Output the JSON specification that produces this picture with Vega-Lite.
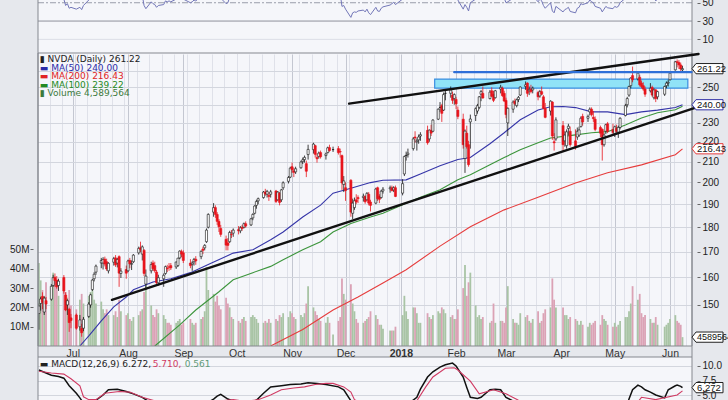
{
"$schema": "https://vega.github.io/schema/vega-lite/v6.json",
"width": 728, "height": 400, "autosize": {"type": "none"}, "padding": 0,
"background": "#f5f6fa",
"view": {"stroke": null},
"config": {"axis": {"labelFont": "Liberation Sans", "labelFontSize": 10, "labelColor": "#222222", "tickColor": "#666666"}},
"resolve": {"scale": {"y": "independent", "color": "independent", "stroke": "independent", "strokeWidth": "independent"}, "axis": {"x": "independent", "y": "independent"}},
"datasets": {
"px": [
{"d":"2017-06-12","o":147,"h":150.5,"l":141.5,"c":149.6,"v":43},
{"d":"2017-06-13","o":150.5,"h":152.9,"l":148,"c":152.1,"v":34},
{"d":"2017-06-14","o":153,"h":154.5,"l":148.5,"c":150.9,"v":29},
{"d":"2017-06-15","o":147.5,"h":153,"l":146.5,"c":152.4,"v":26},
{"d":"2017-06-16","o":151.5,"h":152.8,"l":148.5,"c":150.3,"v":33},
{"d":"2017-06-19","o":152,"h":157.5,"l":151.5,"c":156.7,"v":30},
{"d":"2017-06-20","o":157,"h":161,"l":156.5,"c":159.9,"v":38},
{"d":"2017-06-21","o":160,"h":161.5,"l":156.5,"c":158.8,"v":36},
{"d":"2017-06-22","o":159,"h":160.5,"l":155.8,"c":156.5,"v":31},
{"d":"2017-06-23","o":157,"h":159.5,"l":155,"c":158.6,"v":26},
{"d":"2017-06-26","o":160,"h":160.9,"l":154,"c":155,"v":29},
{"d":"2017-06-27","o":153.5,"h":154.5,"l":147.8,"c":148.2,"v":28},
{"d":"2017-06-28","o":150,"h":152,"l":146.5,"c":151.5,"v":25},
{"d":"2017-06-29","o":148.5,"h":149,"l":140.8,"c":143.9,"v":29},
{"d":"2017-06-30","o":145.5,"h":146.8,"l":142,"c":144.6,"v":21},
{"d":"2017-07-03","o":146.5,"h":147,"l":141.5,"c":142,"v":19},
{"d":"2017-07-05","o":142.5,"h":146.5,"l":141.2,"c":144.8,"v":24},
{"d":"2017-07-06","o":142,"h":143.5,"l":139.2,"c":140.5,"v":27},
{"d":"2017-07-07","o":142,"h":145.8,"l":141,"c":145,"v":22},
{"d":"2017-07-10","o":146,"h":151,"l":145.5,"c":150.3,"v":26},
{"d":"2017-07-11","o":150,"h":154,"l":149,"c":153.6,"v":28},
{"d":"2017-07-12","o":155.5,"h":159.5,"l":155,"c":159,"v":29},
{"d":"2017-07-13","o":159.5,"h":162,"l":158.5,"c":161.2,"v":24},
{"d":"2017-07-14","o":162,"h":164.9,"l":161,"c":164.3,"v":22},
{"d":"2017-07-17","o":165.5,"h":167.5,"l":163.5,"c":166.5,"v":23},
{"d":"2017-07-18","o":165.5,"h":167.8,"l":163,"c":166.9,"v":19},
{"d":"2017-07-19","o":167,"h":168,"l":164.2,"c":165.1,"v":17},
{"d":"2017-07-20","o":166,"h":167.2,"l":162.5,"c":163.2,"v":19},
{"d":"2017-07-21","o":162.5,"h":165.8,"l":161.5,"c":165.4,"v":16},
{"d":"2017-07-24","o":165.8,"h":167.9,"l":164.5,"c":167.2,"v":16},
{"d":"2017-07-25","o":167.5,"h":168.6,"l":164,"c":164.8,"v":18},
{"d":"2017-07-26","o":165.5,"h":167.5,"l":163.8,"c":166.9,"v":15},
{"d":"2017-07-27","o":168,"h":168.5,"l":156.5,"c":161.6,"v":24},
{"d":"2017-07-28","o":161.5,"h":163.5,"l":159.8,"c":162.4,"v":18},
{"d":"2017-07-31","o":163,"h":164.5,"l":159.5,"c":161.6,"v":16},
{"d":"2017-08-01","o":162.5,"h":166.8,"l":162,"c":166.3,"v":17},
{"d":"2017-08-02","o":166.5,"h":167.5,"l":163.5,"c":165.2,"v":14},
{"d":"2017-08-03","o":165,"h":166.5,"l":162.8,"c":165.3,"v":13},
{"d":"2017-08-04","o":166,"h":169,"l":165.5,"c":168.6,"v":15},
{"d":"2017-08-07","o":169.5,"h":172,"l":168.8,"c":171.3,"v":16},
{"d":"2017-08-08","o":171.5,"h":174,"l":169.8,"c":170.9,"v":18},
{"d":"2017-08-09","o":169,"h":172.5,"l":166.5,"c":171.9,"v":19},
{"d":"2017-08-10","o":170.5,"h":171,"l":160.5,"c":161.5,"v":28},
{"d":"2017-08-11","o":157.5,"h":163,"l":155.5,"c":160.5,"v":33},
{"d":"2017-08-14","o":162.5,"h":166,"l":161.5,"c":164.9,"v":21},
{"d":"2017-08-15","o":165.5,"h":166.5,"l":162.5,"c":163.3,"v":16},
{"d":"2017-08-16","o":164.5,"h":166,"l":161.8,"c":162.5,"v":15},
{"d":"2017-08-17","o":162,"h":162.8,"l":157.5,"c":158,"v":19},
{"d":"2017-08-18","o":158,"h":161,"l":157,"c":159.9,"v":17},
{"d":"2017-08-21","o":159.5,"h":161.5,"l":156.5,"c":160.8,"v":16},
{"d":"2017-08-22","o":161.5,"h":164.5,"l":161,"c":164.1,"v":14},
{"d":"2017-08-23","o":163.5,"h":164.8,"l":162,"c":163.3,"v":12},
{"d":"2017-08-24","o":164,"h":165.5,"l":162.5,"c":163.9,"v":12},
{"d":"2017-08-25","o":164.5,"h":165.5,"l":162.8,"c":163.6,"v":11},
{"d":"2017-08-28","o":164,"h":166,"l":163.2,"c":165.9,"v":12},
{"d":"2017-08-29","o":164.5,"h":167.5,"l":164,"c":167.4,"v":13},
{"d":"2017-08-30","o":167.5,"h":170.5,"l":167,"c":170.2,"v":14},
{"d":"2017-08-31","o":170,"h":170.8,"l":167.8,"c":169,"v":11},
{"d":"2017-09-01","o":169.5,"h":170.5,"l":165.5,"c":166.5,"v":12},
{"d":"2017-09-05","o":165.5,"h":167,"l":163.5,"c":164.5,"v":14},
{"d":"2017-09-06","o":165,"h":166.2,"l":162.5,"c":165.5,"v":12},
{"d":"2017-09-07","o":166,"h":167.5,"l":164.5,"c":166.9,"v":11},
{"d":"2017-09-08","o":167,"h":168.2,"l":164.8,"c":166.3,"v":12},
{"d":"2017-09-11","o":168,"h":170.5,"l":167,"c":170.1,"v":14},
{"d":"2017-09-12","o":171,"h":172,"l":169,"c":170.5,"v":15},
{"d":"2017-09-13","o":171.5,"h":173,"l":170.5,"c":172.5,"v":18},
{"d":"2017-09-14","o":174,"h":179.5,"l":173.5,"c":178.8,"v":41},
{"d":"2017-09-15","o":180,"h":186,"l":179.5,"c":185.5,"v":29},
{"d":"2017-09-18","o":186.5,"h":190.5,"l":184.5,"c":188.5,"v":27},
{"d":"2017-09-19","o":188.5,"h":189.5,"l":184,"c":185.5,"v":23},
{"d":"2017-09-20","o":185.5,"h":186.5,"l":181,"c":182.5,"v":26},
{"d":"2017-09-21","o":182.5,"h":183.5,"l":178,"c":180.2,"v":21},
{"d":"2017-09-22","o":179.5,"h":181,"l":176,"c":177,"v":19},
{"d":"2017-09-25","o":175,"h":176.5,"l":170.5,"c":172.6,"v":25},
{"d":"2017-09-26","o":173.5,"h":175.5,"l":170.5,"c":172.5,"v":22},
{"d":"2017-09-27","o":174,"h":178.5,"l":173.5,"c":177.8,"v":20},
{"d":"2017-09-28","o":177,"h":178.8,"l":175.5,"c":176.9,"v":15},
{"d":"2017-09-29","o":177.5,"h":179.5,"l":176,"c":178.8,"v":14},
{"d":"2017-10-02","o":179,"h":180.5,"l":177,"c":178.5,"v":13},
{"d":"2017-10-03","o":178.5,"h":180.5,"l":177.5,"c":179.8,"v":12},
{"d":"2017-10-04","o":180,"h":181,"l":178.5,"c":179.5,"v":14},
{"d":"2017-10-05","o":180,"h":182,"l":179.5,"c":181.5,"v":15},
{"d":"2017-10-06","o":181.5,"h":182.5,"l":179.8,"c":180.5,"v":13},
{"d":"2017-10-09","o":181,"h":184,"l":180.5,"c":183.6,"v":15},
{"d":"2017-10-10","o":184,"h":186,"l":183,"c":185.5,"v":16},
{"d":"2017-10-11","o":186,"h":189.5,"l":185.5,"c":189.2,"v":15},
{"d":"2017-10-12","o":189.5,"h":192,"l":188,"c":191.2,"v":14},
{"d":"2017-10-13","o":191.5,"h":193,"l":190,"c":192.5,"v":12},
{"d":"2017-10-16","o":193,"h":196,"l":192.5,"c":195.5,"v":12},
{"d":"2017-10-17","o":195.5,"h":197,"l":193.8,"c":194.6,"v":13},
{"d":"2017-10-18","o":194.5,"h":196.5,"l":193,"c":195.8,"v":12},
{"d":"2017-10-19","o":194,"h":195.5,"l":191.5,"c":193.5,"v":14},
{"d":"2017-10-20","o":194.5,"h":196.5,"l":193,"c":195.6,"v":12},
{"d":"2017-10-23","o":196,"h":196.5,"l":190.5,"c":191.2,"v":14},
{"d":"2017-10-24","o":192,"h":196,"l":191.5,"c":195.5,"v":13},
{"d":"2017-10-25","o":195,"h":195.5,"l":189.5,"c":190.8,"v":16},
{"d":"2017-10-26","o":192,"h":197,"l":191,"c":196.5,"v":15},
{"d":"2017-10-27","o":197.5,"h":200.5,"l":196.5,"c":199.8,"v":17},
{"d":"2017-10-30","o":200.5,"h":203,"l":199.5,"c":202.3,"v":15},
{"d":"2017-10-31","o":202.5,"h":207.5,"l":202,"c":206.8,"v":18},
{"d":"2017-11-01","o":207.5,"h":209.5,"l":204.5,"c":206,"v":17},
{"d":"2017-11-02","o":205.5,"h":207,"l":202.5,"c":204.8,"v":15},
{"d":"2017-11-03","o":205,"h":207.5,"l":204,"c":206.5,"v":14},
{"d":"2017-11-06","o":207,"h":210.5,"l":206.5,"c":209.8,"v":16},
{"d":"2017-11-07","o":210,"h":212,"l":208.8,"c":210.9,"v":15},
{"d":"2017-11-08","o":211,"h":213,"l":209.5,"c":212.1,"v":17},
{"d":"2017-11-09","o":209,"h":210.5,"l":202.5,"c":205.3,"v":22},
{"d":"2017-11-10","o":213.5,"h":218.5,"l":211,"c":216.1,"v":31},
{"d":"2017-11-13","o":216,"h":219.5,"l":214,"c":218.8,"v":20},
{"d":"2017-11-14","o":218,"h":218.5,"l":212,"c":213.6,"v":18},
{"d":"2017-11-15","o":212,"h":214,"l":209.5,"c":211.4,"v":16},
{"d":"2017-11-16","o":212.5,"h":215,"l":211.5,"c":214.2,"v":14},
{"d":"2017-11-17","o":214.5,"h":215.5,"l":211.5,"c":212.4,"v":13},
{"d":"2017-11-20","o":213,"h":214.5,"l":211,"c":213.8,"v":12},
{"d":"2017-11-21","o":214.5,"h":217.5,"l":214,"c":216.9,"v":15},
{"d":"2017-11-22","o":217,"h":218.5,"l":215,"c":215.5,"v":12},
{"d":"2017-11-24","o":216,"h":217.5,"l":214.8,"c":216,"v":6},
{"d":"2017-11-27","o":216.5,"h":217.8,"l":213.5,"c":214.5,"v":13},
{"d":"2017-11-28","o":215,"h":216.5,"l":212,"c":214.8,"v":15},
{"d":"2017-11-29","o":213,"h":213.5,"l":196.5,"c":199.7,"v":35},
{"d":"2017-11-30","o":199,"h":203,"l":195.5,"c":200.7,"v":27},
{"d":"2017-12-01","o":197.5,"h":200,"l":191.5,"c":196.2,"v":24},
{"d":"2017-12-04","o":201,"h":201.5,"l":184.5,"c":186.5,"v":32},
{"d":"2017-12-05","o":186,"h":192.5,"l":183.5,"c":190.5,"v":22},
{"d":"2017-12-06","o":188.5,"h":193,"l":187.5,"c":191.6,"v":18},
{"d":"2017-12-07","o":192,"h":194.5,"l":190,"c":191,"v":14},
{"d":"2017-12-08","o":193,"h":194,"l":190.5,"c":192.5,"v":12},
{"d":"2017-12-11","o":193,"h":194.8,"l":191.2,"c":193.6,"v":12},
{"d":"2017-12-12","o":193.5,"h":194,"l":190.2,"c":191.1,"v":13},
{"d":"2017-12-13","o":192,"h":195.5,"l":191.5,"c":194.9,"v":14},
{"d":"2017-12-14","o":194.5,"h":195.5,"l":189.5,"c":190.5,"v":15},
{"d":"2017-12-15","o":191,"h":192,"l":186.8,"c":189.5,"v":18},
{"d":"2017-12-18","o":190.5,"h":197.5,"l":190,"c":196.9,"v":16},
{"d":"2017-12-19","o":197.5,"h":198,"l":191.5,"c":192.5,"v":14},
{"d":"2017-12-20","o":193.5,"h":194.5,"l":190.5,"c":192.2,"v":11},
{"d":"2017-12-21","o":193,"h":196.5,"l":192.5,"c":195.9,"v":11},
{"d":"2017-12-22","o":196,"h":197.8,"l":194.8,"c":196.8,"v":9},
{"d":"2017-12-26","o":197,"h":198.5,"l":195.2,"c":197.5,"v":8},
{"d":"2017-12-27","o":197.5,"h":198.5,"l":195.8,"c":196.2,"v":8},
{"d":"2017-12-28","o":196.5,"h":198.2,"l":195.5,"c":197.5,"v":8},
{"d":"2017-12-29","o":197.5,"h":198.5,"l":193.2,"c":193.5,"v":10},
{"d":"2018-01-02","o":195,"h":201.5,"l":194,"c":199.4,"v":16},
{"d":"2018-01-03","o":204,"h":213,"l":203,"c":212.5,"v":26},
{"d":"2018-01-04","o":213,"h":215,"l":210.5,"c":213.1,"v":18},
{"d":"2018-01-05","o":213.5,"h":216.5,"l":212,"c":214.2,"v":14},
{"d":"2018-01-08","o":216.5,"h":222.5,"l":215.5,"c":221.5,"v":20},
{"d":"2018-01-09","o":222.5,"h":225.5,"l":219.5,"c":222,"v":20},
{"d":"2018-01-10","o":220,"h":221.8,"l":215.5,"c":220.5,"v":17},
{"d":"2018-01-11","o":221,"h":223.8,"l":219,"c":222.5,"v":12},
{"d":"2018-01-12","o":223,"h":225,"l":220.5,"c":223.7,"v":12},
{"d":"2018-01-16","o":226,"h":228.5,"l":218.5,"c":219.5,"v":17},
{"d":"2018-01-17","o":221.5,"h":226.5,"l":220,"c":226.1,"v":15},
{"d":"2018-01-18","o":226,"h":229,"l":223,"c":224.5,"v":14},
{"d":"2018-01-19","o":225.5,"h":232,"l":225,"c":231.5,"v":16},
{"d":"2018-01-22","o":232,"h":238,"l":231.5,"c":237.5,"v":18},
{"d":"2018-01-23","o":238.5,"h":241.5,"l":236,"c":238.5,"v":17},
{"d":"2018-01-24","o":239.5,"h":240.5,"l":230.5,"c":235.2,"v":20},
{"d":"2018-01-25","o":237,"h":247,"l":236.5,"c":245.8,"v":19},
{"d":"2018-01-26","o":246.5,"h":249,"l":242.5,"c":246.5,"v":17},
{"d":"2018-01-29","o":246.5,"h":250.5,"l":244,"c":248.5,"v":15},
{"d":"2018-01-30","o":245.5,"h":247.5,"l":240.5,"c":242.5,"v":16},
{"d":"2018-01-31","o":243.5,"h":246.5,"l":240,"c":245.8,"v":14},
{"d":"2018-02-01","o":243,"h":244.5,"l":237.5,"c":240.5,"v":14},
{"d":"2018-02-02","o":237,"h":239,"l":232,"c":233.5,"v":19},
{"d":"2018-02-05","o":232,"h":235,"l":216.5,"c":218.5,"v":30},
{"d":"2018-02-06","o":211.5,"h":226.5,"l":204.5,"c":225.6,"v":42},
{"d":"2018-02-07","o":224.5,"h":228.5,"l":216.5,"c":217.5,"v":26},
{"d":"2018-02-08","o":218.5,"h":220.5,"l":207.5,"c":208.5,"v":33},
{"d":"2018-02-09","o":230.5,"h":234.5,"l":216.5,"c":232.1,"v":38},
{"d":"2018-02-12","o":234,"h":238.5,"l":231,"c":237.8,"v":21},
{"d":"2018-02-13","o":236.5,"h":240.5,"l":235,"c":239.5,"v":15},
{"d":"2018-02-14","o":238.5,"h":245,"l":237.5,"c":244.5,"v":16},
{"d":"2018-02-15","o":246,"h":248.5,"l":242,"c":247.5,"v":14},
{"d":"2018-02-16","o":246.5,"h":250.5,"l":243.5,"c":243.8,"v":15},
{"d":"2018-02-20","o":243.5,"h":248.5,"l":243,"c":247.2,"v":12},
{"d":"2018-02-21","o":248,"h":250,"l":244.5,"c":244.8,"v":13},
{"d":"2018-02-22","o":246,"h":248,"l":241.5,"c":242.5,"v":22},
{"d":"2018-02-23","o":244,"h":248.5,"l":243.5,"c":248,"v":12},
{"d":"2018-02-26","o":249,"h":251.5,"l":246.5,"c":250,"v":13},
{"d":"2018-02-27","o":249.5,"h":250.5,"l":244.5,"c":245.2,"v":13},
{"d":"2018-02-28","o":246.5,"h":248,"l":241.5,"c":242.1,"v":12},
{"d":"2018-03-01","o":242.5,"h":244,"l":232.5,"c":234.5,"v":20},
{"d":"2018-03-02","o":230,"h":238.5,"l":223,"c":238,"v":31},
{"d":"2018-03-05","o":237.5,"h":242.5,"l":235.5,"c":241.5,"v":14},
{"d":"2018-03-06","o":242,"h":243.5,"l":239.5,"c":240.5,"v":12},
{"d":"2018-03-07","o":239.5,"h":243.5,"l":238.5,"c":242.8,"v":12},
{"d":"2018-03-08","o":243,"h":245,"l":241.5,"c":244.2,"v":11},
{"d":"2018-03-09","o":245.5,"h":250.5,"l":245,"c":250.2,"v":17},
{"d":"2018-03-12","o":250.5,"h":253.5,"l":248.5,"c":251.5,"v":15},
{"d":"2018-03-13","o":252.5,"h":253,"l":244.5,"c":246.5,"v":16},
{"d":"2018-03-14","o":248,"h":250.5,"l":245.5,"c":248.8,"v":13},
{"d":"2018-03-15","o":249,"h":251.5,"l":246.5,"c":247.5,"v":12},
{"d":"2018-03-16","o":248.5,"h":250.5,"l":246.5,"c":249.5,"v":14},
{"d":"2018-03-19","o":247,"h":248,"l":242.5,"c":244.5,"v":18},
{"d":"2018-03-20","o":245,"h":248.5,"l":244,"c":247.5,"v":12},
{"d":"2018-03-21","o":247.5,"h":250.5,"l":245.5,"c":246,"v":13},
{"d":"2018-03-22","o":244.5,"h":245.5,"l":237.5,"c":238,"v":17},
{"d":"2018-03-23","o":238,"h":241,"l":232.5,"c":233,"v":19},
{"d":"2018-03-26","o":236.5,"h":242.5,"l":234,"c":242,"v":20},
{"d":"2018-03-27","o":241.5,"h":242,"l":221,"c":223,"v":35},
{"d":"2018-03-28","o":220,"h":224.5,"l":215.5,"c":219.5,"v":24},
{"d":"2018-03-29","o":221.5,"h":233,"l":220.5,"c":231.6,"v":20},
{"d":"2018-04-02","o":228.5,"h":231,"l":215,"c":218.5,"v":20},
{"d":"2018-04-03","o":220.5,"h":225.5,"l":217.5,"c":223.5,"v":16},
{"d":"2018-04-04","o":218,"h":226.5,"l":216.5,"c":225.2,"v":16},
{"d":"2018-04-05","o":227,"h":229.5,"l":223.5,"c":228.2,"v":14},
{"d":"2018-04-06","o":225.5,"h":228,"l":217.5,"c":218.5,"v":15},
{"d":"2018-04-09","o":220.5,"h":226.5,"l":216,"c":217,"v":14},
{"d":"2018-04-10","o":222.5,"h":227.5,"l":221,"c":225.5,"v":13},
{"d":"2018-04-11","o":223.5,"h":228,"l":222.5,"c":226.2,"v":11},
{"d":"2018-04-12","o":228,"h":233.5,"l":227.5,"c":232.5,"v":13},
{"d":"2018-04-13","o":233.5,"h":235,"l":228.5,"c":230.5,"v":11},
{"d":"2018-04-16","o":232.5,"h":234.5,"l":230.5,"c":233.5,"v":10},
{"d":"2018-04-17","o":236,"h":238.5,"l":234,"c":237.5,"v":12},
{"d":"2018-04-18","o":237.5,"h":238.5,"l":233.5,"c":234.5,"v":11},
{"d":"2018-04-19","o":233,"h":236.5,"l":230.5,"c":232.3,"v":12},
{"d":"2018-04-20","o":232,"h":233.5,"l":225.5,"c":226.5,"v":13},
{"d":"2018-04-23","o":227.5,"h":228.5,"l":222.5,"c":224.5,"v":11},
{"d":"2018-04-24","o":226.5,"h":227,"l":210.5,"c":218.5,"v":16},
{"d":"2018-04-25","o":218.5,"h":224.5,"l":217.5,"c":223.5,"v":14},
{"d":"2018-04-26","o":225.5,"h":229.5,"l":224,"c":229,"v":13},
{"d":"2018-04-27","o":229.5,"h":230.5,"l":224.5,"c":225.5,"v":11},
{"d":"2018-04-30","o":226.5,"h":229.5,"l":223.5,"c":224.9,"v":10},
{"d":"2018-05-01","o":224,"h":228.5,"l":222.5,"c":227.9,"v":12},
{"d":"2018-05-02","o":227,"h":229,"l":224.5,"c":225.5,"v":10},
{"d":"2018-05-03","o":225,"h":228.5,"l":222,"c":227.6,"v":11},
{"d":"2018-05-04","o":227.5,"h":233,"l":226.5,"c":232.5,"v":13},
{"d":"2018-05-07","o":234,"h":240.5,"l":233.5,"c":239.5,"v":15},
{"d":"2018-05-08","o":240,"h":244.5,"l":238.5,"c":243.5,"v":15},
{"d":"2018-05-09","o":245.5,"h":251,"l":244.5,"c":250.5,"v":18},
{"d":"2018-05-10","o":251,"h":256,"l":249.5,"c":255.5,"v":22},
{"d":"2018-05-11","o":257,"h":262.5,"l":253,"c":254.5,"v":31},
{"d":"2018-05-14","o":255,"h":259.5,"l":254,"c":258.5,"v":24},
{"d":"2018-05-15","o":256,"h":257.5,"l":250.5,"c":251.5,"v":27},
{"d":"2018-05-16","o":252.5,"h":254,"l":249.5,"c":250.5,"v":17},
{"d":"2018-05-17","o":251,"h":253,"l":248,"c":249,"v":15},
{"d":"2018-05-18","o":249,"h":250.5,"l":244.5,"c":246,"v":16},
{"d":"2018-05-21","o":248,"h":252.5,"l":247,"c":249.5,"v":14},
{"d":"2018-05-22","o":250,"h":251,"l":244.5,"c":245.5,"v":12},
{"d":"2018-05-23","o":244,"h":249.5,"l":243,"c":248.5,"v":12},
{"d":"2018-05-24","o":248.5,"h":249,"l":241.5,"c":243.5,"v":15},
{"d":"2018-05-25","o":244.5,"h":248,"l":243,"c":247.5,"v":11},
{"d":"2018-05-29","o":246,"h":251,"l":245,"c":250.5,"v":10},
{"d":"2018-05-30","o":251,"h":253.5,"l":249.5,"c":252.5,"v":11},
{"d":"2018-05-31","o":252.5,"h":254.5,"l":250.5,"c":253,"v":12},
{"d":"2018-06-01","o":254.5,"h":259,"l":254,"c":258.5,"v":14},
{"d":"2018-06-04","o":260.5,"h":266,"l":260,"c":265.5,"v":16},
{"d":"2018-06-05","o":265.5,"h":266.9,"l":262,"c":265,"v":13},
{"d":"2018-06-06","o":265,"h":266.5,"l":261,"c":263.5,"v":12},
{"d":"2018-06-07","o":263.5,"h":265,"l":259.5,"c":261,"v":11},
{"d":"2018-06-08","o":260.5,"h":263,"l":259,"c":261.22,"v":4.59}
],
"ma": [
{"s":"ma50","d":"2017-07-05","p":136.2},{"s":"ma50","d":"2017-07-10","p":139.5},{"s":"ma50","d":"2017-07-17","p":144.5},{"s":"ma50","d":"2017-07-24","p":149.3},{"s":"ma50","d":"2017-07-31","p":152.8},{"s":"ma50","d":"2017-08-04","p":155.4},{"s":"ma50","d":"2017-08-15","p":158.3},{"s":"ma50","d":"2017-08-25","p":159.5},{"s":"ma50","d":"2017-09-05","p":161.8},{"s":"ma50","d":"2017-09-15","p":164.9},{"s":"ma50","d":"2017-09-29","p":169.4},{"s":"ma50","d":"2017-10-10","p":170.7},{"s":"ma50","d":"2017-10-20","p":174.8},{"s":"ma50","d":"2017-10-27","p":178},{"s":"ma50","d":"2017-11-07","p":184.4},{"s":"ma50","d":"2017-11-17","p":189.6},{"s":"ma50","d":"2017-11-24","p":195},{"s":"ma50","d":"2017-12-04","p":197.3},{"s":"ma50","d":"2017-12-15","p":199.9},{"s":"ma50","d":"2017-12-22","p":201},{"s":"ma50","d":"2018-01-04","p":201.2},{"s":"ma50","d":"2018-01-12","p":204},{"s":"ma50","d":"2018-01-23","p":208},{"s":"ma50","d":"2018-02-02","p":211},{"s":"ma50","d":"2018-02-09","p":212},{"s":"ma50","d":"2018-02-20","p":219},{"s":"ma50","d":"2018-02-28","p":224.7},{"s":"ma50","d":"2018-03-09","p":231.7},{"s":"ma50","d":"2018-03-19","p":237},{"s":"ma50","d":"2018-03-26","p":238.9},{"s":"ma50","d":"2018-04-02","p":239},{"s":"ma50","d":"2018-04-09","p":238.4},{"s":"ma50","d":"2018-04-18","p":236},{"s":"ma50","d":"2018-04-27","p":236},{"s":"ma50","d":"2018-05-07","p":234.5},{"s":"ma50","d":"2018-05-16","p":236},{"s":"ma50","d":"2018-05-25","p":237},{"s":"ma50","d":"2018-06-04","p":238.4},{"s":"ma50","d":"2018-06-08","p":240},
{"s":"ma100","d":"2017-08-16","p":136.2},{"s":"ma100","d":"2017-08-30","p":143.1},{"s":"ma100","d":"2017-09-08","p":148.2},{"s":"ma100","d":"2017-09-21","p":154.7},{"s":"ma100","d":"2017-09-29","p":159.1},{"s":"ma100","d":"2017-10-10","p":161.8},{"s":"ma100","d":"2017-10-20","p":164.2},{"s":"ma100","d":"2017-10-27","p":166.8},{"s":"ma100","d":"2017-11-07","p":170.7},{"s":"ma100","d":"2017-11-17","p":174},{"s":"ma100","d":"2017-11-24","p":178},{"s":"ma100","d":"2017-12-04","p":181.6},{"s":"ma100","d":"2017-12-15","p":184.4},{"s":"ma100","d":"2017-12-22","p":186},{"s":"ma100","d":"2018-01-04","p":190.4},{"s":"ma100","d":"2018-01-12","p":193.1},{"s":"ma100","d":"2018-01-23","p":196.6},{"s":"ma100","d":"2018-02-02","p":201.2},{"s":"ma100","d":"2018-02-09","p":203.6},{"s":"ma100","d":"2018-02-20","p":208.4},{"s":"ma100","d":"2018-02-28","p":212},{"s":"ma100","d":"2018-03-09","p":215.9},{"s":"ma100","d":"2018-03-19","p":219.5},{"s":"ma100","d":"2018-03-26","p":222},{"s":"ma100","d":"2018-04-09","p":223.6},{"s":"ma100","d":"2018-04-18","p":224.7},{"s":"ma100","d":"2018-04-27","p":225.3},{"s":"ma100","d":"2018-05-07","p":228.9},{"s":"ma100","d":"2018-05-16","p":232.6},{"s":"ma100","d":"2018-05-25","p":235.5},{"s":"ma100","d":"2018-06-04","p":237.2},{"s":"ma100","d":"2018-06-08","p":239.2},
{"s":"ma200","d":"2017-10-20","p":136.2},{"s":"ma200","d":"2017-11-07","p":141.6},{"s":"ma200","d":"2017-11-24","p":148.2},{"s":"ma200","d":"2017-12-08","p":152.8},{"s":"ma200","d":"2017-12-22","p":157.9},{"s":"ma200","d":"2018-01-04","p":162.9},{"s":"ma200","d":"2018-01-23","p":172.2},{"s":"ma200","d":"2018-02-09","p":180.2},{"s":"ma200","d":"2018-02-28","p":187.5},{"s":"ma200","d":"2018-03-19","p":193.1},{"s":"ma200","d":"2018-04-09","p":199.7},{"s":"ma200","d":"2018-04-27","p":204.6},{"s":"ma200","d":"2018-05-16","p":208.4},{"s":"ma200","d":"2018-06-04","p":213.4},{"s":"ma200","d":"2018-06-08","p":216.4}
],
"rsi": [
{"d":"2017-06-12","r":58},{"d":"2017-06-16","r":57},{"d":"2017-06-20","r":62},{"d":"2017-06-23","r":58},{"d":"2017-06-26","r":54},{"d":"2017-06-27","r":47},{"d":"2017-06-28","r":49},{"d":"2017-06-29","r":44},{"d":"2017-06-30","r":45},{"d":"2017-07-03","r":43},{"d":"2017-07-05","r":45},{"d":"2017-07-06","r":42.5},{"d":"2017-07-07","r":47},{"d":"2017-07-10","r":53},{"d":"2017-07-11","r":58},{"d":"2017-07-14","r":66},{"d":"2017-07-21","r":64},{"d":"2017-07-27","r":58},{"d":"2017-08-02","r":60},{"d":"2017-08-08","r":63},{"d":"2017-08-09","r":58},{"d":"2017-08-10","r":47},{"d":"2017-08-11","r":43.5},{"d":"2017-08-14","r":51},{"d":"2017-08-15","r":49},{"d":"2017-08-16","r":48},{"d":"2017-08-17","r":45},{"d":"2017-08-18","r":47},{"d":"2017-08-21","r":48},{"d":"2017-08-22","r":52},{"d":"2017-08-23","r":51},{"d":"2017-08-24","r":52},{"d":"2017-08-25","r":51},{"d":"2017-08-28","r":54},{"d":"2017-08-30","r":58},{"d":"2017-09-01","r":54},{"d":"2017-09-05","r":50},{"d":"2017-09-06","r":51},{"d":"2017-09-07","r":53},{"d":"2017-09-08","r":52},{"d":"2017-09-11","r":57},{"d":"2017-09-14","r":68},{"d":"2017-09-19","r":65},{"d":"2017-09-21","r":58},{"d":"2017-09-22","r":55},{"d":"2017-09-25","r":49},{"d":"2017-09-26","r":50},{"d":"2017-09-27","r":56},{"d":"2017-10-02","r":58},{"d":"2017-10-09","r":66},{"d":"2017-10-20","r":62},{"d":"2017-10-25","r":58},{"d":"2017-10-31","r":68},{"d":"2017-11-09","r":60},{"d":"2017-11-13","r":68},{"d":"2017-11-20","r":62},{"d":"2017-11-28","r":60},{"d":"2017-11-29","r":46},{"d":"2017-11-30","r":47},{"d":"2017-12-01","r":43},{"d":"2017-12-04","r":34},{"d":"2017-12-05","r":39},{"d":"2017-12-06","r":40},{"d":"2017-12-07","r":39.5},{"d":"2017-12-08","r":41},{"d":"2017-12-11","r":42},{"d":"2017-12-12","r":40},{"d":"2017-12-13","r":43},{"d":"2017-12-14","r":39},{"d":"2017-12-15","r":37},{"d":"2017-12-18","r":45},{"d":"2017-12-19","r":41},{"d":"2017-12-20","r":40.5},{"d":"2017-12-21","r":44},{"d":"2017-12-22","r":45.5},{"d":"2017-12-26","r":47.5},{"d":"2017-12-27","r":49},{"d":"2017-12-28","r":50.5},{"d":"2017-12-29","r":48},{"d":"2018-01-02","r":54},{"d":"2018-01-03","r":64},{"d":"2018-01-10","r":66},{"d":"2018-01-19","r":70},{"d":"2018-01-29","r":72},{"d":"2018-02-01","r":58},{"d":"2018-02-02","r":53},{"d":"2018-02-05","r":43},{"d":"2018-02-06","r":48},{"d":"2018-02-07","r":45},{"d":"2018-02-08","r":41},{"d":"2018-02-09","r":50},{"d":"2018-02-12","r":54},{"d":"2018-02-14","r":58},{"d":"2018-02-26","r":60},{"d":"2018-02-28","r":55},{"d":"2018-03-01","r":50},{"d":"2018-03-02","r":51},{"d":"2018-03-05","r":55},{"d":"2018-03-09","r":60},{"d":"2018-03-13","r":57},{"d":"2018-03-16","r":58},{"d":"2018-03-19","r":51},{"d":"2018-03-20","r":54},{"d":"2018-03-21","r":52},{"d":"2018-03-22","r":47},{"d":"2018-03-23","r":44},{"d":"2018-03-26","r":50},{"d":"2018-03-27","r":41},{"d":"2018-03-28","r":39},{"d":"2018-03-29","r":46},{"d":"2018-04-02","r":40},{"d":"2018-04-03","r":42.5},{"d":"2018-04-04","r":43.5},{"d":"2018-04-05","r":45},{"d":"2018-04-06","r":40.5},{"d":"2018-04-09","r":39},{"d":"2018-04-10","r":44},{"d":"2018-04-11","r":45},{"d":"2018-04-12","r":49},{"d":"2018-04-13","r":48},{"d":"2018-04-16","r":50},{"d":"2018-04-17","r":53},{"d":"2018-04-18","r":51},{"d":"2018-04-19","r":50},{"d":"2018-04-20","r":46},{"d":"2018-04-23","r":44},{"d":"2018-04-24","r":40},{"d":"2018-04-25","r":43},{"d":"2018-04-26","r":46},{"d":"2018-04-27","r":44.5},{"d":"2018-04-30","r":43.5},{"d":"2018-05-01","r":46},{"d":"2018-05-02","r":45},{"d":"2018-05-03","r":46},{"d":"2018-05-04","r":50},{"d":"2018-05-07","r":55},{"d":"2018-05-09","r":62},{"d":"2018-05-14","r":60},{"d":"2018-05-15","r":56},{"d":"2018-05-18","r":56},{"d":"2018-05-22","r":55},{"d":"2018-05-23","r":57},{"d":"2018-05-24","r":52},{"d":"2018-05-25","r":54},{"d":"2018-05-29","r":56},{"d":"2018-06-01","r":62},{"d":"2018-06-08","r":64}
],
"macd": [
{"s":"m","d":"2017-06-12","v":9.3},{"s":"m","d":"2017-06-19","v":8.4},{"s":"m","d":"2017-06-23","v":8.2},{"s":"m","d":"2017-06-26","v":7.9},{"s":"m","d":"2017-06-29","v":6.6},{"s":"m","d":"2017-07-03","v":5.3},{"s":"m","d":"2017-07-05","v":4.5},{"s":"m","d":"2017-07-07","v":3.6},{"s":"m","d":"2017-07-11","v":3.5},{"s":"m","d":"2017-07-14","v":4.1},{"s":"m","d":"2017-07-18","v":5.0},{"s":"m","d":"2017-07-21","v":5.9},{"s":"m","d":"2017-07-26","v":6.0},{"s":"m","d":"2017-07-31","v":5.6},{"s":"m","d":"2017-08-04","v":5.2},{"s":"m","d":"2017-08-09","v":4.6},{"s":"m","d":"2017-08-14","v":3.6},{"s":"m","d":"2017-08-22","v":2.8},{"s":"m","d":"2017-09-01","v":2.6},{"s":"m","d":"2017-09-12","v":3.2},{"s":"m","d":"2017-09-18","v":4.3},{"s":"m","d":"2017-09-20","v":4.8},{"s":"m","d":"2017-09-22","v":5.1},{"s":"m","d":"2017-09-26","v":4.3},{"s":"m","d":"2017-10-02","v":3.6},{"s":"m","d":"2017-10-06","v":3.5},{"s":"m","d":"2017-10-12","v":4.1},{"s":"m","d":"2017-10-16","v":5.3},{"s":"m","d":"2017-10-20","v":6.4},{"s":"m","d":"2017-10-26","v":6.6},{"s":"m","d":"2017-10-31","v":6.8},{"s":"m","d":"2017-11-06","v":6.9},{"s":"m","d":"2017-11-10","v":7.1},{"s":"m","d":"2017-11-15","v":7.0},{"s":"m","d":"2017-11-20","v":6.8},{"s":"m","d":"2017-11-27","v":6.4},{"s":"m","d":"2017-11-30","v":5.9},{"s":"m","d":"2017-12-04","v":4.0},{"s":"m","d":"2017-12-08","v":3.0},{"s":"m","d":"2017-12-15","v":2.2},{"s":"m","d":"2017-12-22","v":2.5},{"s":"m","d":"2017-12-29","v":2.6},{"s":"m","d":"2018-01-04","v":3.2},{"s":"m","d":"2018-01-10","v":4.6},{"s":"m","d":"2018-01-12","v":6.0},{"s":"m","d":"2018-01-16","v":8.1},{"s":"m","d":"2018-01-19","v":9.0},{"s":"m","d":"2018-01-23","v":9.8},{"s":"m","d":"2018-01-26","v":10.2},{"s":"m","d":"2018-01-30","v":10.5},{"s":"m","d":"2018-02-01","v":10.0},{"s":"m","d":"2018-02-05","v":8.1},{"s":"m","d":"2018-02-07","v":6.3},{"s":"m","d":"2018-02-09","v":4.6},{"s":"m","d":"2018-02-13","v":4.4},{"s":"m","d":"2018-02-15","v":4.6},{"s":"m","d":"2018-02-20","v":5.9},{"s":"m","d":"2018-02-23","v":6.0},{"s":"m","d":"2018-02-26","v":5.9},{"s":"m","d":"2018-03-01","v":4.6},{"s":"m","d":"2018-03-06","v":3.8},{"s":"m","d":"2018-03-13","v":3.6},{"s":"m","d":"2018-03-20","v":3.0},{"s":"m","d":"2018-03-28","v":1.5},{"s":"m","d":"2018-04-05","v":0.0},{"s":"m","d":"2018-04-13","v":-0.3},{"s":"m","d":"2018-04-20","v":0.2},{"s":"m","d":"2018-04-27","v":-0.2},{"s":"m","d":"2018-05-03","v":0.4},{"s":"m","d":"2018-05-07","v":2.5},{"s":"m","d":"2018-05-09","v":4.3},{"s":"m","d":"2018-05-11","v":5.9},{"s":"m","d":"2018-05-14","v":6.7},{"s":"m","d":"2018-05-16","v":6.4},{"s":"m","d":"2018-05-18","v":5.9},{"s":"m","d":"2018-05-21","v":5.5},{"s":"m","d":"2018-05-24","v":5.0},{"s":"m","d":"2018-05-29","v":4.5},{"s":"m","d":"2018-05-31","v":5.9},{"s":"m","d":"2018-06-04","v":6.6},{"s":"m","d":"2018-06-05","v":6.7},{"s":"m","d":"2018-06-07","v":6.5},{"s":"m","d":"2018-06-08","v":6.27},
{"s":"g","d":"2017-06-12","v":9.1},{"s":"g","d":"2017-06-19","v":8.8},{"s":"g","d":"2017-06-26","v":8.6},{"s":"g","d":"2017-06-30","v":7.8},{"s":"g","d":"2017-07-05","v":6.6},{"s":"g","d":"2017-07-07","v":4.7},{"s":"g","d":"2017-07-10","v":4.2},{"s":"g","d":"2017-07-14","v":4.2},{"s":"g","d":"2017-07-19","v":5.3},{"s":"g","d":"2017-07-27","v":5.6},{"s":"g","d":"2017-08-02","v":5.5},{"s":"g","d":"2017-08-09","v":4.6},{"s":"g","d":"2017-08-16","v":4.0},{"s":"g","d":"2017-08-25","v":3.3},{"s":"g","d":"2017-09-06","v":2.8},{"s":"g","d":"2017-09-15","v":3.2},{"s":"g","d":"2017-09-22","v":4.0},{"s":"g","d":"2017-09-29","v":4.2},{"s":"g","d":"2017-10-06","v":3.9},{"s":"g","d":"2017-10-13","v":4.2},{"s":"g","d":"2017-10-20","v":5.0},{"s":"g","d":"2017-10-26","v":5.9},{"s":"g","d":"2017-11-02","v":6.2},{"s":"g","d":"2017-11-08","v":6.4},{"s":"g","d":"2017-11-14","v":6.8},{"s":"g","d":"2017-11-20","v":7.0},{"s":"g","d":"2017-11-24","v":7.0},{"s":"g","d":"2017-11-30","v":6.4},{"s":"g","d":"2017-12-04","v":5.5},{"s":"g","d":"2017-12-06","v":4.2},{"s":"g","d":"2017-12-12","v":3.3},{"s":"g","d":"2017-12-20","v":2.8},{"s":"g","d":"2017-12-29","v":2.5},{"s":"g","d":"2018-01-05","v":3.0},{"s":"g","d":"2018-01-10","v":4.0},{"s":"g","d":"2018-01-15","v":6.4},{"s":"g","d":"2018-01-19","v":8.1},{"s":"g","d":"2018-01-26","v":9.6},{"s":"g","d":"2018-01-31","v":9.7},{"s":"g","d":"2018-02-02","v":9.3},{"s":"g","d":"2018-02-09","v":7.4},{"s":"g","d":"2018-02-14","v":5.2},{"s":"g","d":"2018-02-22","v":5.9},{"s":"g","d":"2018-03-01","v":5.2},{"s":"g","d":"2018-03-08","v":4.1},{"s":"g","d":"2018-03-15","v":3.6},{"s":"g","d":"2018-03-26","v":2.5},{"s":"g","d":"2018-04-05","v":1.0},{"s":"g","d":"2018-04-20","v":0},{"s":"g","d":"2018-05-03","v":0},{"s":"g","d":"2018-05-10","v":2.2},{"s":"g","d":"2018-05-16","v":4.6},{"s":"g","d":"2018-05-24","v":4.2},{"s":"g","d":"2018-06-05","v":5.0},{"s":"g","d":"2018-06-08","v":5.71}
],
"tl": [
{"s":"lo","d":"2017-07-23","p":151.8},{"s":"lo","d":"2018-06-15","p":238.2},
{"s":"up","d":"2017-12-03","p":240.6},{"s":"up","d":"2018-06-17","p":270.4},
{"s":"res","d":"2018-01-31","p":259.1},{"s":"res","d":"2018-06-13","p":259.1}
],
"box": [{"d1":"2018-01-20","d2":"2018-06-11","p1":249.5,"p2":254.9}],
"leg": [
{"k":"a","t":"▮ NVDA (Daily) 261.22"},
{"k":"b","t":"▬ MA(50) 240.00"},
{"k":"c","t":"▬ MA(200) 216.43"},
{"k":"d","t":"▬ MA(100) 239.22"},
{"k":"e","t":"▮ Volume 4,589,564"}
],
"tags": [
{"t":"261.22","p":261.22,"k":"px"},
{"t":"240.00","p":240,"k":"ma50"},
{"t":"216.43","p":216.43,"k":"ma200"}
],
"vtag": [{"t":"4589564","v":4.59}],
"mtag": [{"t":"6.272","m":6.272}]
},
"layer": [
{"data":{"name":"px"},"mark":{"type":"bar","size":1.8},
 "encoding":{
  "x":{"field":"d","type":"temporal","scale":{"type":"utc","domain":[{"year":2017,"month":6,"date":11,"hours":12,"utc":true},{"year":2018,"month":6,"date":13,"hours":8,"utc":true}],"range":[33,697]},
       "axis":{"orient":"bottom","grid":true,"gridColor":"#c4c7d1","labels":false,"ticks":false,"domain":false,"tickCount":{"interval":"month","step":1},"zindex":0,"title":null}},
  "y":{"field":"v","type":"quantitative","scale":{"domain":[0,151.8],"range":[346,53],"nice":false,"zero":false},
       "axis":{"orient":"left","offset":-33,"values":[10,20,30,40,50],"labelExpr":"datum.value + 'M'","grid":false,"domain":false,"tickSize":3,"labelPadding":1,"zindex":2,"title":null}},
  "color":{"condition":{"test":"datum.c < datum.o","value":"#dba2b5"},"value":"#a9c4a5"}}},
{"data":{"name":"ma"},"mark":{"type":"line","strokeWidth":1.1},
 "encoding":{
  "x":{"field":"d","type":"temporal","axis":{"orient":"bottom","grid":true,"gridColor":"#dfe1e9","labels":false,"ticks":false,"domain":false,"tickCount":{"interval":"week","step":1},"zindex":0,"title":null}},
  "y":{"field":"p","type":"quantitative","scale":{"type":"log","domain":[136.2,271],"range":[346,53],"nice":false},"axis":null},
  "color":{"field":"s","type":"nominal","scale":{"domain":["ma50","ma100","ma200"],"range":["#3535a8","#3c953c","#e63c3c"]},"legend":null}}},
{"data":{"name":"box"},"mark":{"type":"rect","fill":"#90e3f7","stroke":"#3a8de0","strokeWidth":1.2},
 "encoding":{
  "x":{"field":"d1","type":"temporal","axis":null},"x2":{"field":"d2"},
  "y":{"field":"p1","type":"quantitative","scale":{"type":"log","domain":[136.2,271],"range":[346,53],"nice":false},"axis":null},"y2":{"field":"p2"}}},
{"data":{"name":"px"},"mark":{"type":"rule","strokeWidth":0.8},
 "encoding":{
  "x":{"field":"d","type":"temporal","axis":null},
  "y":{"field":"l","type":"quantitative","scale":{"type":"log","domain":[136.2,271],"range":[346,53],"nice":false},
       "axis":{"orient":"right","grid":true,"gridColor":"#d3d6de","labels":false,"ticks":false,"domain":false,"values":[150,160,170,180,190,200,210,220,230,240,250,260],"zindex":0,"title":null}},
  "y2":{"field":"h"},
  "color":{"condition":{"test":"datum.c < datum.o","value":"#e8141c"},"value":"#111111"}}},
{"data":{"name":"px"},"mark":{"type":"bar","size":2.1,"strokeWidth":0.6},
 "encoding":{
  "x":{"field":"d","type":"temporal",
       "axis":{"orient":"bottom","offset":-54,"grid":false,"domain":false,"ticks":false,"tickCount":{"interval":"month","step":1},
               "labelExpr":"utcFormat(datum.value, '%m') == '01' ? utcFormat(datum.value, '%Y') : utcFormat(datum.value, '%b')",
               "labelFontWeight":{"condition":{"test":"utcFormat(datum.value, '%m') == '01'","value":"bold"},"value":"normal"},
               "labelFontSize":10.5,"labelColor":"#333333","labelPadding":2,"labelOverlap":false,"zindex":2,"title":null}},
  "y":{"field":"o","type":"quantitative","scale":{"type":"log","domain":[136.2,271],"range":[346,53],"nice":false},
       "axis":{"orient":"right","offset":-31,"values":[150,160,170,180,190,200,210,220,230,250],"format":"d","grid":false,"domain":false,"tickSize":3,"labelPadding":2,"zindex":2,"title":null}},
  "y2":{"field":"c"},
  "fill":{"condition":{"test":"datum.c < datum.o","value":"#e8141c"},"value":"#ffffff"},
  "stroke":{"condition":{"test":"datum.c < datum.o","value":"#e8141c"},"value":"#111111"}}},
{"data":{"values":[{}]},"mark":{"type":"rule","color":"#dcdee6"},
 "encoding":{"y":{"datum":10,"type":"quantitative","scale":{"domain":[-4.9,53],"range":[53,0],"nice":false,"zero":false},"axis":null}}},
{"data":{"values":[{}]},"mark":{"type":"rule","color":"#8e919c"},
 "encoding":{"y":{"datum":30,"type":"quantitative","scale":{"domain":[-4.9,53],"range":[53,0],"nice":false,"zero":false},"axis":null}}},
{"data":{"values":[{}]},"mark":{"type":"rule","color":"#9a9daa","strokeDash":[6,2,2,2]},
 "encoding":{"y":{"datum":50,"type":"quantitative","scale":{"domain":[-4.9,53],"range":[53,0],"nice":false,"zero":false},"axis":null}}},
{"data":{"name":"rsi"},"mark":{"type":"line","color":"#7377b8","strokeWidth":1},
 "encoding":{
  "x":{"field":"d","type":"temporal","axis":null},
  "y":{"field":"r","type":"quantitative","scale":{"domain":[-4.9,53],"range":[53,0],"nice":false,"zero":false},
       "axis":{"orient":"right","offset":-31,"values":[10,30,50],"grid":false,"domain":false,"tickSize":3,"labelPadding":2,"zindex":2,"title":null}}}},
{"data":{"name":"macd"},"transform":[{"filter":"datum.s == 'm'"}],"mark":{"type":"line","color":"#111111","strokeWidth":1.5},
 "encoding":{
  "x":{"field":"d","type":"temporal","axis":null},
  "y":{"field":"v","type":"quantitative","scale":{"domain":[4.14,11.55],"range":[400,357],"nice":false,"zero":false},
       "axis":{"orient":"right","grid":true,"gridColor":"#d3d6de","labels":false,"ticks":false,"domain":false,"values":[5,7.5,10],"zindex":0,"title":null}}}},
{"data":{"name":"macd"},"transform":[{"filter":"datum.s == 'g'"}],"mark":{"type":"line","color":"#d03a63","strokeWidth":1.1},
 "encoding":{
  "x":{"field":"d","type":"temporal","axis":null},
  "y":{"field":"v","type":"quantitative","scale":{"domain":[4.14,11.55],"range":[400,357],"nice":false,"zero":false},
       "axis":{"orient":"right","offset":-31,"values":[5,7.5,10],"format":".1f","grid":false,"domain":false,"tickSize":3,"labelPadding":2,"zindex":2,"title":null}}}},
{"data":{"values":[{}]},"mark":{"type":"rect","color":"#e6e8ed","zindex":1},
 "encoding":{"x":{"datum":{"year":2017,"month":5,"date":1,"utc":true},"type":"temporal","axis":null},"x2":{"datum":{"year":2017,"month":6,"date":11,"hours":12,"utc":true}}}},
{"data":{"values":[{}]},"mark":{"type":"rect","color":"#e6e8ed","zindex":1},
 "encoding":{"x":{"datum":{"year":2018,"month":6,"date":13,"hours":8,"utc":true},"type":"temporal","axis":null},"x2":{"datum":{"year":2018,"month":7,"date":20,"utc":true}}}},
{"data":{"values":[{}]},"mark":{"type":"rect","color":"#e6e8ed","zindex":1},
 "encoding":{"y":{"datum":11.55,"type":"quantitative","scale":{"domain":[4.14,11.55],"range":[400,357],"nice":false,"zero":false},"axis":null},"y2":{"datum":13.45}}},
{"data":{"values":[{}]},"mark":{"type":"rect","filled":false,"color":"#85888f","strokeWidth":1,"zindex":1},
 "encoding":{
  "x":{"datum":{"year":2017,"month":6,"date":11,"hours":12,"utc":true},"type":"temporal","axis":null},"x2":{"datum":{"year":2018,"month":6,"date":13,"hours":8,"utc":true}},
  "y":{"datum":136.2,"type":"quantitative","scale":{"type":"log","domain":[136.2,271],"range":[346,53],"nice":false},"axis":null},"y2":{"datum":271}}},
{"data":{"values":[{}]},"mark":{"type":"rule","color":"#85888f","zindex":1},
 "encoding":{"x":{"datum":{"year":2017,"month":6,"date":11,"hours":12,"utc":true},"type":"temporal","axis":null}}},
{"data":{"values":[{}]},"mark":{"type":"rule","color":"#85888f","zindex":1},
 "encoding":{"x":{"datum":{"year":2018,"month":6,"date":13,"hours":8,"utc":true},"type":"temporal","axis":null}}},
{"data":{"values":[{}]},"mark":{"type":"rule","color":"#85888f","zindex":1},
 "encoding":{
  "x":{"datum":{"year":2017,"month":6,"date":11,"hours":12,"utc":true},"type":"temporal","axis":null},"x2":{"datum":{"year":2018,"month":6,"date":13,"hours":8,"utc":true}},
  "y":{"datum":11.55,"type":"quantitative","scale":{"domain":[4.14,11.55],"range":[400,357],"nice":false,"zero":false},"axis":null}}},
{"data":{"name":"tl"},"mark":{"type":"line","zindex":2,"strokeCap":"round"},
 "encoding":{
  "x":{"field":"d","type":"temporal","axis":null},
  "y":{"field":"p","type":"quantitative","scale":{"type":"log","domain":[136.2,271],"range":[346,53],"nice":false},"axis":null},
  "detail":{"field":"s"},
  "color":{"field":"s","type":"nominal","scale":{"domain":["lo","up","res"],"range":["#111111","#111111","#2f6fd8"]},"legend":null},
  "strokeWidth":{"field":"s","type":"nominal","scale":{"domain":["lo","up","res"],"range":[2.4,2.4,2]},"legend":null}}},
{"data":{"name":"leg"},"mark":{"type":"text","align":"left","baseline":"middle","font":"DejaVu Sans","fontSize":9,"zindex":3},
 "encoding":{
  "x":{"datum":{"year":2017,"month":6,"date":12,"hours":12,"utc":true},"type":"temporal","axis":null},
  "y":{"field":"k","type":"ordinal","scale":{"domain":["a","b","c","d","e"],"range":[59,93.4],"padding":0},"axis":null},
  "text":{"field":"t"},
  "color":{"field":"k","type":"nominal","scale":{"domain":["a","b","c","d","e"],"range":["#222222","#2c2ca8","#e02424","#248a24","#3c7a3c"]},"legend":null}}},
{"data":{"values":[{}]},"mark":{"type":"text","align":"left","baseline":"middle","font":"DejaVu Sans","fontSize":9,"color":"#222222","zindex":3,"text":"▬ MACD(12,26,9) 6.272,"},
 "encoding":{
  "x":{"datum":{"year":2017,"month":6,"date":12,"hours":12,"utc":true},"type":"temporal","axis":null},
  "y":{"datum":10.3,"type":"quantitative","scale":{"domain":[4.14,11.55],"range":[400,357],"nice":false,"zero":false},"axis":null}}},
{"data":{"values":[{}]},"mark":{"type":"text","align":"left","baseline":"middle","font":"DejaVu Sans","fontSize":9,"color":"#d03a63","zindex":3,"dx":113,"text":"5.710,"},
 "encoding":{
  "x":{"datum":{"year":2017,"month":6,"date":12,"hours":12,"utc":true},"type":"temporal","axis":null},
  "y":{"datum":10.3,"type":"quantitative","scale":{"domain":[4.14,11.55],"range":[400,357],"nice":false,"zero":false},"axis":null}}},
{"data":{"values":[{}]},"mark":{"type":"text","align":"left","baseline":"middle","font":"DejaVu Sans","fontSize":9,"color":"#5f9a78","zindex":3,"dx":145,"text":"0.561"},
 "encoding":{
  "x":{"datum":{"year":2017,"month":6,"date":12,"hours":12,"utc":true},"type":"temporal","axis":null},
  "y":{"datum":10.3,"type":"quantitative","scale":{"domain":[4.14,11.55],"range":[400,357],"nice":false,"zero":false},"axis":null}}},
{"data":{"name":"tags"},"mark":{"type":"point","shape":"M-1,0L-0.74,-0.33L1,-0.33L1,0.33L-0.74,0.33Z","size":961,"fill":"#ffffff","fillOpacity":1,"strokeWidth":1,"xOffset":15.5,"zindex":3},
 "encoding":{
  "x":{"datum":{"year":2018,"month":6,"date":13,"hours":8,"utc":true},"type":"temporal","axis":null},
  "y":{"field":"p","type":"quantitative","scale":{"type":"log","domain":[136.2,271],"range":[346,53],"nice":false},"axis":null},
  "stroke":{"field":"k","type":"nominal","scale":{"domain":["px","ma50","ma200"],"range":["#222222","#3535a8","#e63c3c"]},"legend":null}}},
{"data":{"name":"tags"},"mark":{"type":"text","align":"left","baseline":"middle","font":"Liberation Sans","fontSize":9.5,"color":"#111111","dx":5,"zindex":3},
 "encoding":{
  "x":{"datum":{"year":2018,"month":6,"date":13,"hours":8,"utc":true},"type":"temporal","axis":null},
  "y":{"field":"p","type":"quantitative","scale":{"type":"log","domain":[136.2,271],"range":[346,53],"nice":false},"axis":null},
  "text":{"field":"t"}}},
{"data":{"name":"vtag"},"mark":{"type":"point","shape":"M-1,0L-0.74,-0.33L1,-0.33L1,0.33L-0.74,0.33Z","size":961,"fill":"#ffffff","fillOpacity":1,"stroke":"#222222","strokeWidth":1,"xOffset":15.5,"zindex":3},
 "encoding":{
  "x":{"datum":{"year":2018,"month":6,"date":13,"hours":8,"utc":true},"type":"temporal","axis":null},
  "y":{"field":"v","type":"quantitative","scale":{"domain":[0,151.8],"range":[346,53],"nice":false,"zero":false},"axis":null}}},
{"data":{"name":"vtag"},"mark":{"type":"text","align":"left","baseline":"middle","font":"Liberation Sans","fontSize":9,"color":"#111111","dx":5,"zindex":3},
 "encoding":{
  "x":{"datum":{"year":2018,"month":6,"date":13,"hours":8,"utc":true},"type":"temporal","axis":null},
  "y":{"field":"v","type":"quantitative","scale":{"domain":[0,151.8],"range":[346,53],"nice":false,"zero":false},"axis":null},
  "text":{"field":"t"}}},
{"data":{"name":"mtag"},"mark":{"type":"point","shape":"M-1,0L-0.74,-0.33L1,-0.33L1,0.33L-0.74,0.33Z","size":961,"fill":"#ffffff","fillOpacity":1,"stroke":"#222222","strokeWidth":1,"xOffset":15.5,"zindex":3},
 "encoding":{
  "x":{"datum":{"year":2018,"month":6,"date":13,"hours":8,"utc":true},"type":"temporal","axis":null},
  "y":{"field":"m","type":"quantitative","scale":{"domain":[4.14,11.55],"range":[400,357],"nice":false,"zero":false},"axis":null}}},
{"data":{"name":"mtag"},"mark":{"type":"text","align":"left","baseline":"middle","font":"Liberation Sans","fontSize":9.5,"color":"#111111","dx":5,"zindex":3},
 "encoding":{
  "x":{"datum":{"year":2018,"month":6,"date":13,"hours":8,"utc":true},"type":"temporal","axis":null},
  "y":{"field":"m","type":"quantitative","scale":{"domain":[4.14,11.55],"range":[400,357],"nice":false,"zero":false},"axis":null},
  "text":{"field":"t"}}}
]
}
